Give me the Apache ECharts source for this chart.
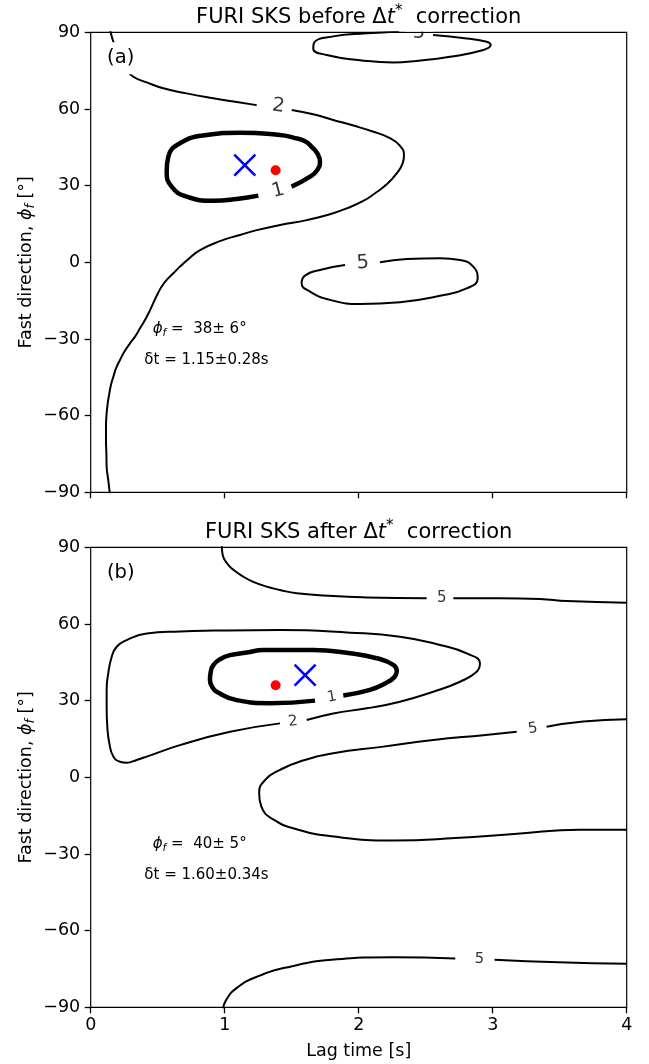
<!DOCTYPE html>
<html>
<head>
<meta charset="utf-8">
<script src="https://cdn.jsdelivr.net/npm/echarts@6/dist/echarts.min.js"></script>
<style>
  html, body { margin: 0; padding: 0; background: #fff; }
  #chart { width: 649px; height: 1064px; }
</style>
</head>
<body>
<div id="chart"></div>
<script>
// ---- axes ----
const lagTicks = [0, 1, 2, 3, 4];                    // lag time [s]
const phiTicks = [-90, -60, -30, 0, 30, 60, 90];     // fast direction [deg]

// ---- panel (a): before Δt* correction ----
// each contour level is a list of polylines [lag, phi]; gaps leave room for the inline labels
const beforeLevel1 = [
  [[1.499, 29.6], [1.637, 33.5], [1.691, 36.1], [1.711, 39.4], [1.691, 42.6], [1.649, 45.2],
   [1.600, 47.4], [1.512, 48.8], [1.413, 49.8], [1.114, 50.7], [0.866, 49.8], [0.666, 46.6],
   [0.579, 41.3], [0.567, 35.4], [0.604, 29.6], [0.716, 25.7], [0.915, 24.1], [1.090, 24.8],
   [1.251, 26.1]]
];
const beforeLevel2 = [
  [[0.145, 91.0], [0.149, 90.0], [0.169, 86.3], [0.215, 80.5], [0.265, 75.5], [0.318, 72.6],
   [0.418, 70.4], [0.542, 68.1], [0.716, 66.1], [0.915, 64.2], [1.090, 62.7], [1.239, 61.5]],
  [[1.500, 59.6], [1.661, 57.9], [1.810, 55.7], [1.960, 53.5], [2.110, 51.1], [2.221, 48.9],
   [2.308, 45.6], [2.338, 41.9], [2.328, 38.7], [2.284, 34.8], [2.209, 30.5], [2.122, 27.0],
   [2.034, 24.0], [1.910, 21.1], [1.786, 18.8], [1.612, 16.5], [1.413, 14.6], [1.239, 12.6],
   [1.114, 10.7], [0.965, 8.3], [0.816, 4.8], [0.741, 1.8], [0.666, -1.7],
   [0.617, -4.3], [0.567, -6.9], [0.530, -9.5], [0.500, -12.3], [0.472, -15.4], [0.443, -18.7],
   [0.405, -22.6], [0.368, -25.8], [0.331, -29.1], [0.293, -31.7], [0.251, -35.0],
   [0.219, -38.2], [0.189, -41.5], [0.169, -44.8], [0.151, -48.0], [0.139, -51.3],
   [0.127, -55.2], [0.119, -59.1], [0.114, -64.3], [0.114, -69.5], [0.117, -74.7],
   [0.119, -80.0], [0.131, -85.2], [0.144, -91.0]]
];
const beforeLevel5 = [
  [[2.159, 0.0], [2.358, 1.3], [2.607, 1.6], [2.756, 0.9], [2.855, -1.7], [2.888, -6.3],
   [2.806, -10.2], [2.607, -13.1], [2.308, -15.6], [2.010, -16.3], [1.786, -14.7],
   [1.637, -11.5], [1.574, -8.2], [1.599, -5.2], [1.711, -3.0], [1.898, -1.1]],
  [[2.300, 90.4], [2.208, 90.0], [2.059, 89.6], [1.810, 88.4], [1.668, 86.0], [1.661, 83.6],
   [1.761, 81.1], [2.010, 79.1], [2.259, 78.2], [2.433, 78.8], [2.681, 80.4], [2.930, 83.1],
   [2.985, 85.0], [2.955, 86.3], [2.806, 87.6], [2.555, 88.9]]
];
// inline contour labels: [lag, phi, level]
const beforeLabels = [[1.40, 28.0, 1], [1.40, 61.1, 2], [2.03, -0.3, 5], [2.45, 89.8, 5]];
const beforeEstimate = { phi: 38, dphi: 6, dt: 1.15, ddt: 0.28 };
const beforeReference = [1.38, 36];

// ---- panel (b): after Δt* correction ----
const afterLevel1 = [
  [[1.885, 32.0], [2.084, 34.2], [2.200, 36.8], [2.268, 39.3], [2.284, 41.6], [2.258, 44.0],
   [2.134, 46.6], [1.935, 48.5], [1.661, 49.8], [1.288, 49.8], [1.164, 48.8], [1.040, 47.8],
   [0.965, 46.2], [0.915, 43.9], [0.896, 41.3], [0.890, 38.1], [0.907, 35.4], [0.940, 33.5],
   [1.090, 30.2], [1.338, 29.0], [1.674, 30.0]]
];
const afterLevel2 = [
  [[1.612, 22.4], [1.810, 25.0], [2.060, 27.0], [2.308, 29.6], [2.557, 33.5], [2.756, 37.4],
   [2.880, 41.3], [2.905, 44.6], [2.806, 48.5], [2.607, 51.8], [2.308, 55.0], [1.935, 56.6],
   [1.413, 57.6], [0.915, 57.4], [0.666, 57.1], [0.418, 56.3], [0.269, 53.7], [0.194, 51.1],
   [0.157, 47.2], [0.131, 40.7], [0.119, 34.2], [0.119, 27.6], [0.124, 19.8], [0.139, 13.3],
   [0.169, 8.1], [0.219, 6.1], [0.269, 5.7], [0.343, 6.8], [0.418, 8.1], [0.666, 12.6],
   [1.040, 17.8], [1.413, 21.1]]
];
const afterLevel5 = [
  [[0.978, 91.0], [0.985, 87.0], [1.027, 83.1], [1.077, 80.7], [1.139, 78.5], [1.213, 76.5],
   [1.313, 74.6], [1.413, 73.3], [1.537, 72.0], [1.810, 70.9], [2.060, 70.4], [2.507, 70.1]],
  [[2.706, 70.1], [3.054, 70.1], [3.353, 69.8], [3.552, 69.0], [4.000, 68.3]],
  [[4.000, -20.5], [3.646, -20.5], [3.183, -22.1], [2.721, -23.8], [2.259, -24.7],
   [1.797, -23.1], [1.550, -20.5], [1.365, -16.6], [1.273, -11.4], [1.257, -6.1],
   [1.304, -0.9], [1.413, 2.9], [1.562, 6.2], [1.810, 9.4], [2.184, 12.0], [2.557, 14.6],
   [2.930, 16.5], [3.179, 17.8]],
  [[3.402, 19.8], [3.676, 21.8], [4.000, 22.7]],
  [[0.986, -91.0], [1.011, -87.1], [1.088, -82.5], [1.242, -78.0], [1.488, -74.1],
   [1.797, -71.4], [2.259, -70.4], [2.721, -70.9]],
  [[3.014, -71.4], [3.490, -72.4], [4.000, -73.0]]
];
const afterLabels = [[1.80, 31.4, 1], [1.51, 21.8, 2], [2.62, 70.2, 5], [3.30, 19.0, 5], [2.90, -71.1, 5]];
const afterEstimate = { phi: 40, dphi: 5, dt: 1.60, ddt: 0.34 };
const afterReference = [1.38, 36];

// ---- styling / layout ----
const FONT = '"DejaVu Sans", sans-serif';
const GRID = { left: 90.7, width: 536, height: 460, tops: [32.3, 547.3] };
const beforeLabelTilt = [15, -8, 4, 0];
const afterLabelTilt = [11, 7, 0, 9, -2];

const minus = v => String(v).replace('-', '\u2212');

function contourSeries(segments, gi, width) {
  return segments.map(seg => ({
    type: 'line', xAxisIndex: gi, yAxisIndex: gi, data: seg,
    symbol: 'none', smooth: 0.5, silent: true, clip: true, z: 3,
    lineStyle: { color: '#000', width: width, cap: 'butt', join: 'round' }
  }));
}
function labelSeries(labels, tilts, gi, size) {
  return {
    type: 'scatter', xAxisIndex: gi, yAxisIndex: gi, silent: true, z: 4,
    symbolSize: 1, itemStyle: { color: 'transparent' },
    data: labels.map((l, i) => ({ value: l, label: { rotate: tilts[i] } })),
    label: {
      show: true, position: 'inside', color: '#000', fontFamily: FONT, fontSize: size,
      formatter: p => String(p.value[2])
    }
  };
}
function markerSeries(est, ref, gi) {
  return [
    { type: 'scatter', xAxisIndex: gi, yAxisIndex: gi, silent: true, z: 5,
      data: [ref], symbol: 'circle', symbolSize: 10, itemStyle: { color: '#ff0000', opacity: 1 } },
    { type: 'scatter', xAxisIndex: gi, yAxisIndex: gi, silent: true, z: 6,
      data: [[est.dt, est.phi]], symbol: 'path://M0,0L10,10M10,0L0,10', symbolSize: 21,
      itemStyle: { color: 'none', borderColor: '#0000ff', borderWidth: 2.6, opacity: 1 } }
  ];
}
function xAxis(gi, showLabels) {
  return {
    type: 'value', gridIndex: gi, min: lagTicks[0], max: lagTicks[lagTicks.length - 1],
    interval: lagTicks[1] - lagTicks[0],
    axisLine: { show: false, onZero: false }, splitLine: { show: false },
    axisTick: { show: true, inside: false, length: 6, lineStyle: { color: '#000', width: 1.3 } },
    axisLabel: { show: showLabels, margin: 9, color: '#000', fontFamily: FONT, fontSize: 17.5 },
    name: showLabels ? 'Lag time [s]' : '', nameLocation: 'middle', nameGap: 35, nameMoveOverlap: false,
    nameTextStyle: { color: '#000', fontFamily: FONT, fontSize: 17.5 }
  };
}
function yAxis(gi) {
  return {
    type: 'value', gridIndex: gi, min: phiTicks[0], max: phiTicks[phiTicks.length - 1],
    interval: phiTicks[1] - phiTicks[0],
    axisLine: { show: false, onZero: false }, splitLine: { show: false },
    axisTick: { show: true, inside: false, length: 6, lineStyle: { color: '#000', width: 1.3 } },
    axisLabel: { margin: 10.5, color: '#000', fontFamily: FONT, fontSize: 17.5, formatter: minus },
    name: '{n|Fast direction, }{i|\u03D5}{s|f}{n| [\u00B0]}', nameLocation: 'middle',
    nameGap: 53, nameMoveOverlap: false,
    nameTextStyle: {
      color: '#000', fontFamily: FONT, fontSize: 17.5,
      rich: {
        n: { fontFamily: FONT, fontSize: 17.5, color: '#000', lineHeight: 22 },
        i: { fontFamily: FONT, fontSize: 17.5, color: '#000', fontStyle: 'italic', lineHeight: 22 },
        s: { fontFamily: FONT, fontSize: 12.5, color: '#000', fontStyle: 'italic', verticalAlign: 'bottom', lineHeight: 12 }
      }
    }
  };
}

const chart = echarts.init(document.getElementById('chart'), null, { renderer: 'canvas' });

const series = [].concat(
  contourSeries(beforeLevel2, 0, 2), contourSeries(beforeLevel5, 0, 2), contourSeries(beforeLevel1, 0, 4.5),
  [labelSeries(beforeLabels, beforeLabelTilt, 0, 19.5)], markerSeries(beforeEstimate, beforeReference, 0),
  contourSeries(afterLevel2, 1, 2), contourSeries(afterLevel5, 1, 2), contourSeries(afterLevel1, 1, 4.5),
  [labelSeries(afterLabels, afterLabelTilt, 1, 15)], markerSeries(afterEstimate, afterReference, 1)
);

chart.setOption({
  animation: false,
  backgroundColor: '#fff',
  grid: GRID.tops.map(t => ({
    left: GRID.left, top: t, width: GRID.width, height: GRID.height,
    show: true, borderColor: '#000', borderWidth: 1.2, backgroundColor: 'transparent'
  })),
  xAxis: [xAxis(0, false), xAxis(1, true)],
  yAxis: [yAxis(0), yAxis(1)],
  series: series
});

// titles, panel tags and the splitting-result annotations
function titleText(gi, word) {
  return {
    type: 'text', z: 100, x: GRID.left + GRID.width / 2, y: GRID.tops[gi] - 15,
    style: {
      text: '{n|FURI SKS ' + word + ' }{n|\u0394}{i|t}{s|*}{n|  correction}',
      align: 'center', verticalAlign: 'middle', textAlign: 'center', textVerticalAlign: 'middle',
      fill: '#000', fontFamily: FONT, fontSize: 21,
      rich: {
        n: { fontFamily: FONT, fontSize: 21, fill: '#000', lineHeight: 28 },
        i: { fontFamily: FONT, fontSize: 21, fill: '#000', fontStyle: 'italic', lineHeight: 28 },
        s: { fontFamily: FONT, fontSize: 15, fill: '#000', verticalAlign: 'top', lineHeight: 17 }
      }
    }
  };
}
function panelTag(gi, tag) {
  return {
    type: 'text', z: 100, x: GRID.left + 30, y: GRID.tops[gi] + 26,
    style: {
      text: tag, align: 'center', verticalAlign: 'middle', textAlign: 'center', textVerticalAlign: 'middle',
      fill: '#000', fontFamily: FONT, fontSize: 19.5, backgroundColor: '#fff', padding: [6, 3]
    }
  };
}
function estimateText(gi, est) {
  const top = GRID.tops[gi];
  const small = { fontFamily: FONT, fontSize: 15, fill: '#000', lineHeight: 19 };
  return [
    { type: 'text', z: 100, x: GRID.left + 62, y: top + 297,
      style: {
        text: '{n|}{i|\u03D5}{s|f}{n| =  ' + est.phi + '\u00B1 ' + est.dphi + '\u00B0}',
        align: 'left', verticalAlign: 'middle', textAlign: 'left', textVerticalAlign: 'middle',
        fill: '#000', fontFamily: FONT, fontSize: 15,
        rich: {
          n: small,
          i: Object.assign({}, small, { fontStyle: 'italic' }),
          s: { fontFamily: FONT, fontSize: 10.5, fill: '#000', fontStyle: 'italic', verticalAlign: 'bottom', lineHeight: 11 }
        }
      } },
    { type: 'text', z: 100, x: GRID.left + 53.6, y: top + 327.7,
      style: {
        text: '\u03B4t = ' + est.dt.toFixed(2) + '\u00B1' + est.ddt.toFixed(2) + 's',
        align: 'left', verticalAlign: 'middle', textAlign: 'left', textVerticalAlign: 'middle',
        fill: '#000', fontFamily: FONT, fontSize: 15
      } }
  ];
}

// the topmost label of panel (a) sits on the frame and is cut by it
const cut = chart.convertToPixel({ gridIndex: 0 }, [beforeLabels[3][0], beforeLabels[3][1]]);
const mask = {
  type: 'rect', z: 99, shape: { x: cut[0] - 14, y: GRID.tops[0] - 8.5, width: 28, height: 7.8 },
  style: { fill: '#fff' }
};

chart.setOption({
  graphic: [
    titleText(0, 'before'), titleText(1, 'after'),
    panelTag(0, '(a)'), panelTag(1, '(b)'),
    mask
  ].concat(estimateText(0, beforeEstimate), estimateText(1, afterEstimate))
});
</script>
</body>
</html>
